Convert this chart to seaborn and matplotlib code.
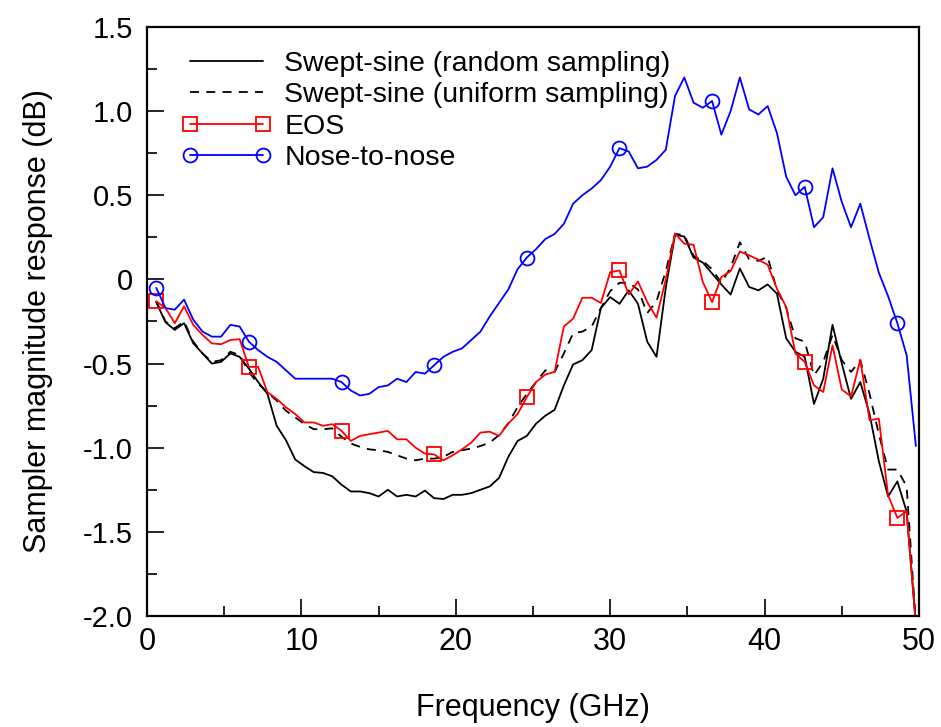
import numpy as np
import pandas as pd
import matplotlib
matplotlib.use("Agg")
import matplotlib.pyplot as plt
import seaborn as sns
from matplotlib.ticker import MultipleLocator

# frequency grid (GHz), 0.6 GHz steps
freq = np.round(np.linspace(0.6, 49.8, 83), 1)

swept_random = [
    -0.135, -0.255, -0.30, -0.26, -0.38, -0.44, -0.50, -0.49, -0.44, -0.46,
    -0.53, -0.61, -0.68, -0.87, -0.955, -1.07, -1.11, -1.145, -1.15, -1.17,
    -1.22, -1.26, -1.26, -1.27, -1.29, -1.25, -1.29, -1.28, -1.29, -1.255,
    -1.30, -1.305, -1.28, -1.28, -1.27, -1.25, -1.23, -1.18, -1.055, -0.96,
    -0.93, -0.857, -0.81, -0.775, -0.63, -0.505, -0.48, -0.42, -0.17, -0.105,
    -0.145, -0.065, -0.145, -0.37, -0.46, -0.05, 0.265, 0.255, 0.13, 0.10,
    0.035, -0.03, -0.09, 0.065, -0.045, -0.065, -0.03, -0.085, -0.35, -0.43,
    -0.46, -0.74, -0.59, -0.27, -0.50, -0.71, -0.61, -0.80, -1.08, -1.29,
    -1.20, -1.38, -2.05,
]

swept_uniform = [
    -0.13, -0.25, -0.29, -0.25, -0.37, -0.44, -0.49, -0.48, -0.43, -0.45,
    -0.55, -0.62, -0.67, -0.72, -0.78, -0.82, -0.86, -0.89, -0.89, -0.885,
    -0.935, -0.975, -0.995, -1.01, -1.015, -1.025, -1.045, -1.065, -1.075, -1.065,
    -1.065, -1.055, -1.025, -1.015, -1.005, -0.99, -0.97, -0.925, -0.855, -0.76,
    -0.68, -0.61, -0.54, -0.55, -0.44, -0.32, -0.31, -0.28, -0.17, -0.07,
    -0.02, -0.02, -0.06, -0.20, -0.13, 0.05, 0.27, 0.265, 0.14, 0.11,
    0.06, -0.02, 0.07, 0.22, 0.12, 0.11, 0.135, -0.065, -0.17, -0.35,
    -0.37, -0.57, -0.49, -0.33, -0.48, -0.55, -0.48, -0.68, -0.92, -1.13,
    -1.13, -1.23, -2.05,
]

eos = [
    -0.13, -0.17, -0.26, -0.16, -0.27, -0.33, -0.38, -0.385, -0.36, -0.355,
    -0.52, -0.52, -0.67, -0.71, -0.76, -0.80, -0.85, -0.85, -0.87, -0.86,
    -0.90, -0.96, -0.93, -0.92, -0.91, -0.90, -0.95, -0.95, -1.00, -1.035,
    -1.04, -1.075, -1.045, -1.01, -0.97, -0.91, -0.905, -0.93, -0.857, -0.80,
    -0.70, -0.61, -0.565, -0.55, -0.28, -0.233, -0.109, -0.109, -0.14, 0.043,
    0.053, -0.089, -0.012, -0.135, -0.227, 0.0, 0.273, 0.212, 0.206, -0.016,
    -0.135, 0.014, 0.049, 0.166, 0.143, 0.117, 0.087, -0.055, -0.164, -0.441,
    -0.491, -0.63, -0.669, -0.392, -0.655, -0.695, -0.477, -0.837, -0.827, -1.283,
    -1.417, -1.378, -2.05,
]

nose_to_nose = [
    -0.05, -0.17, -0.18, -0.12, -0.24, -0.31, -0.34, -0.34, -0.27, -0.28,
    -0.37, -0.42, -0.46, -0.49, -0.54, -0.59, -0.59, -0.59, -0.59, -0.59,
    -0.61, -0.66, -0.69, -0.68, -0.64, -0.63, -0.59, -0.61, -0.55, -0.56,
    -0.51, -0.46, -0.43, -0.41, -0.36, -0.31, -0.22, -0.14, -0.06, 0.06,
    0.13, 0.18, 0.24, 0.27, 0.33, 0.45, 0.50, 0.54, 0.59, 0.67,
    0.78, 0.76, 0.66, 0.67, 0.71, 0.77, 1.09, 1.20, 1.05, 1.02,
    1.06, 0.86, 1.00, 1.20, 1.01, 0.98, 1.03, 0.87, 0.61, 0.50,
    0.55, 0.31, 0.37, 0.66, 0.46, 0.31, 0.45, 0.24, 0.04, -0.10,
    -0.26, -0.45, -0.99,
]

sns.set_style("ticks")
plt.rcParams['font.family'] = ['Liberation Sans', 'DejaVu Sans']
for key in ['text.color', 'axes.labelcolor', 'xtick.color', 'ytick.color', 'axes.edgecolor']:
    plt.rcParams[key] = 'black'

fig = plt.figure(figsize=(9.41, 7.27), dpi=100)
ax = fig.add_axes([0.1562, 0.1527, 0.8204, 0.8102])

df = pd.DataFrame({'freq': freq, 'random': swept_random, 'uniform': swept_uniform,
                   'eos': eos, 'n2n': nose_to_nose})

lw = 1.3
sns.lineplot(data=df, x='freq', y='random', ax=ax, color='black', lw=lw,
             label='Swept-sine (random sampling)')
sns.lineplot(data=df, x='freq', y='uniform', ax=ax, color='black', lw=lw,
             linestyle=(0, (5, 4)), label='Swept-sine (uniform sampling)')
sns.lineplot(data=df, x='freq', y='eos', ax=ax, color='#ff0000', lw=lw,
             marker='s', markevery=10, markersize=10, markerfacecolor='none',
             markeredgecolor='#ff0000', markeredgewidth=1.3, label='EOS')
sns.lineplot(data=df, x='freq', y='n2n', ax=ax, color='#0000ff', lw=lw,
             marker='o', markevery=10, markersize=10, markerfacecolor='none',
             markeredgecolor='#0000ff', markeredgewidth=1.3, label='Nose-to-nose')

ax.set_xlim(0, 50)
ax.set_ylim(-2.0, 1.5)
ax.xaxis.set_major_locator(MultipleLocator(10))
ax.xaxis.set_minor_locator(MultipleLocator(5))
ax.yaxis.set_major_locator(MultipleLocator(0.5))
ax.yaxis.set_minor_locator(MultipleLocator(0.25))

ylabels = ['-2.0', '-1.5', '-1.0', '-0.5', '0', '0.5', '1.0', '1.5']
ax.set_yticks(np.arange(-2.0, 1.51, 0.5))
ax.set_yticklabels(ylabels)

ax.tick_params(which='both', direction='in', top=False, right=False,
               labelsize=22, width=1.2, color='black', labelcolor='black')
ax.tick_params(axis='y', labelsize=21)
ax.tick_params(which='major', length=12)
ax.tick_params(which='minor', length=7)
ax.tick_params(axis='x', pad=8)
ax.tick_params(axis='y', pad=10)
for s in ax.spines.values():
    s.set_linewidth(1.6)
    s.set_color('black')

ax.set_xlabel('Frequency (GHz)', fontsize=22, labelpad=26)
ax.set_ylabel('Sampler magnitude response (dB)', fontsize=22, labelpad=22)

leg = ax.legend(loc='upper left', bbox_to_anchor=(0.012, 1.003), frameon=False,
                fontsize=20.5, handlelength=3.15, handletextpad=0.45,
                labelspacing=0.19, numpoints=2, borderaxespad=0.5)

fig.savefig('out.png', dpi=100)
